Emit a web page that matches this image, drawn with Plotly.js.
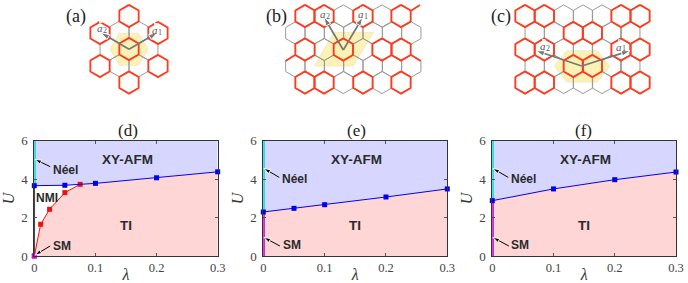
<!DOCTYPE html>
<html><head><meta charset="utf-8">
<script src="https://cdn.plot.ly/plotly-3.0.1.min.js"></script>
<style>html,body{margin:0;padding:0;background:#fff}#c{width:688px;height:283px}</style>
</head><body><div id="c"></div>
<script>
// ---- phase-diagram data
const dBlueL=[0,0.05,0.1,0.2,0.3], dBlueU=[3.66,3.68,3.78,4.07,4.38];
const dRedL=[0,0.0104,0.025,0.05,0.075], dRedU=[0,1.65,2.43,3.3,3.73];
const dTopL=[0,0.0104,0.025,0.05,0.075,0.1,0.2,0.3], dTopU=[0,1.65,2.43,3.3,3.73,3.78,4.07,4.38];
const eBlueL=[0,0.05,0.1,0.2,0.3], eBlueU=[2.29,2.48,2.67,3.07,3.49];
const fBlueL=[0,0.1,0.2,0.3], fBlueU=[2.88,3.49,3.97,4.37];
const xTicks=[0,0.1,0.2,0.3], xTickText=['0','0.1','0.2','0.3'], yTicks=[0,2,4,6];
// ---- lattice diagrams, hexagon centres in sheet pixels
const aRed=[[129,16],[158,33],[100,33],[129,49],[100,66],[158,66],[129,82.5]];
const aGrey=[[148.3,49],[109.7,49],[138.65,32.3],[119.35,32.3],[138.65,65.7],[119.35,65.7]];
const bRed=[[305,16],[324,16],[363,16],[401,16],[305,49.5],[343.3,49.5],[382,49.5],[401,49.5],[305,82.5],[324,82.5],[363,82.5],[401,82.5]];
const bGrey=[[305,16],[324,16],[343.3,16],[363,16],[382,16],[401,16],[295.3,33],[314.7,33],[334,33],[353.3,33],[372.7,33],[392,33],[411.3,33],
[305,49.5],[324,49.5],[343.3,49.5],[363,49.5],[382,49.5],[401,49.5],[295.3,66],[314.7,66],[334,66],[353.3,66],[372.7,66],[392,66],[411.3,66],
[305,82.5],[324,82.5],[343.3,82.5],[363,82.5],[382,82.5],[401,82.5]];
const bRedEdgeX=[411,420,null,285.7,295,null,411,420.7], bRedEdgeY=[10.7,5,null,61,55,null,55,61];
const cRed=[[525,16],[544.3,16],[621,16],[640,16],[573.3,33],[592.3,33],[525,49.5],[544.3,49.5],[621,49.5],[640,49.5],[573.3,66],[592.3,66],[525,82.5],[544.3,82.5],[621,82.5],[640,82.5]];
const cGrey=[[525,16],[544.3,16],[563.7,16],[583,16],[602,16],[621,16],[640,16],[534.7,33],[554,33],[573.3,33],[592.3,33],[611.7,33],[630.3,33],
[525,49.5],[544.3,49.5],[563.7,49.5],[583,49.5],[602,49.5],[621,49.5],[640,49.5],[534.7,66],[554,66],[573.3,66],[592.3,66],[611.7,66],[630.3,66],
[525,82.5],[544.3,82.5],[563.7,82.5],[583,82.5],[602,82.5],[621,82.5],[640,82.5]];
const aCell=[[110,49],[119.3,33.3],[138.3,33.3],[148.3,49],[138.3,65.3],[119.3,65.3]];
const bCell=[[334,32.3],[373.3,32.3],[353.3,66],[314.3,66]];
const cCell=[[554.3,66],[566.7,50.7],[597.3,50.7],[610,66],[597.3,82],[566.7,82]];
const arrows=[[129,49.3,101,32.7],[129,49.3,157.3,32.7],[343.3,50,324,17.3],[343.3,50,362.7,17.3],[581.7,66,536,50.7],[581.7,66,630,50.7]];
const vecLabels=[[100,28,'2'],[155,30,'1'],[323,14,'2'],[361,14,'1'],[543,46,'2'],[619,46.5,'1']];
const panelTags=[['(a)',76,16,18],['(b)',276,16,18],['(c)',501,16,18],['(d)',128,130,17],['(e)',356,130,17],['(f)',583,130,17]];

const W=688,H=283,R=11.1,HW=9.65;
const RED='#ff3a1e',GREY='#9a9a9a',BLUE='#0000ee',CY='#00dede',MAG='#c400c4';
function hexes(list){const x=[],y=[];for(const [a,b] of list){
 x.push(a,a+HW,a+HW,a,a-HW,a-HW,a,null);y.push(b-R,b-R/2,b+R/2,b+R,b+R/2,b-R/2,b-R,null);}return {x,y};}
function closed(list){return {x:list.map(p=>p[0]).concat(list[0][0]),y:list.map(p=>p[1]).concat(list[0][1])};}
const traces=[],ann=[],layout={width:W,height:H,margin:{l:0,r:0,t:0,b:0},showlegend:false,paper_bgcolor:'#fff',plot_bgcolor:'rgba(0,0,0,0)',
 font:{family:'Liberation Serif',color:'#333'},annotations:ann};
function arrow(xa,ya,a,color,width,head){
 traces.push({x:[a[0],a[2]],y:[a[1],a[3]],xaxis:xa,yaxis:ya,mode:'lines+markers',cliponaxis:false,line:{color,width},
  marker:{symbol:'arrow',angleref:'previous',size:[1,head],opacity:[0,1],color}});
}
const panels=[
 {n:'',x0:34.3,x1:217.7,blueL:dBlueL,blueU:dBlueU,top:[dTopL,dTopU],cyan:3.66,mag:null,nt:[.051,4.5],na:[.026,4.65,.001,5.03],st:[.045,.54],sa:[.026,.52,.001,.05]},
 {n:'2',x0:263.3,x1:447.3,blueL:eBlueL,blueU:eBlueU,top:[eBlueL,eBlueU],cyan:2.29,mag:2.29,nt:[.051,4.0],na:[.026,4.09,.001,4.56],st:[.046,.57],sa:[.027,.52,.001,.97]},
 {n:'3',x0:492.3,x1:676,blueL:fBlueL,blueU:fBlueU,top:[fBlueL,fBlueU],cyan:2.88,mag:2.88,nt:[.051,4.0],na:[.026,4.09,.001,4.56],st:[.046,.57],sa:[.027,.52,.001,.97]}
];
const label=(xr,yr,t,x,y,size)=>ann.push({xref:xr,yref:yr,x,y,text:t,showarrow:false,font:{family:'Liberation Sans',size,color:'#2a2a2a'}});
panels.forEach((p,i)=>{
 const xa='x'+p.n,ya='y'+p.n,k=p.n;
 const ax={domain:[p.x0/W,p.x1/W],range:[0,0.3],tickvals:xTicks,ticktext:xTickText,ticks:'inside',ticklen:3,tickcolor:'#555',
  showline:true,linecolor:'#333',linewidth:1,mirror:'ticks',showgrid:false,zeroline:false,tickfont:{family:'Liberation Serif',size:12.5,color:'#444'},
  title:{text:'<i>λ</i>',font:{family:'Liberation Serif',size:16,color:'#333'},standoff:5},anchor:ya};
 const ay={domain:[(H-256)/H,(H-140.7)/H],range:[0,6],tickvals:yTicks,ticks:'inside',ticklen:3,tickcolor:'#555',ticklabelstandoff:3,
  showline:true,linecolor:'#333',linewidth:1,mirror:'ticks',showgrid:false,zeroline:false,tickfont:{family:'Liberation Serif',size:13,color:'#444'},
  title:{text:'<i>U</i>',font:{family:'Liberation Serif',size:16,color:'#333'},standoff:2},anchor:xa};
 layout['xaxis'+k]=ax;layout['yaxis'+k]=ay;
 traces.push({x:[0,0.3],y:[6,6],xaxis:xa,yaxis:ya,mode:'lines',line:{width:0},fill:'tozeroy',fillcolor:'#d6d6ff'});
 traces.push({x:p.blueL,y:p.blueU,xaxis:xa,yaxis:ya,mode:'lines',line:{width:0},fill:'tozeroy',fillcolor:'#ffffff'});
 traces.push({x:p.top[0],y:p.top[1],xaxis:xa,yaxis:ya,mode:'lines',line:{width:0},fill:'tozeroy',fillcolor:'#ffd6d6'});
 traces.push({x:[0,0],y:[p.cyan,6],xaxis:xa,yaxis:ya,mode:'lines',line:{color:CY,width:3},cliponaxis:false});
 if(p.mag) traces.push({x:[0,0],y:[0,p.mag],xaxis:xa,yaxis:ya,mode:'lines',line:{color:MAG,width:3},cliponaxis:false});
 else {traces.push({x:[0,0],y:[0,p.cyan],xaxis:xa,yaxis:ya,mode:'lines',line:{color:'#000',width:1.5},cliponaxis:false});
  traces.push({x:dRedL,y:dRedU,xaxis:xa,yaxis:ya,mode:'lines+markers',line:{color:'#f01010',width:1},marker:{symbol:'square',size:5,color:'#f01010'},cliponaxis:false});
  traces.push({x:[0],y:[0],xaxis:xa,yaxis:ya,mode:'markers',marker:{symbol:'square',size:5,color:'#e000e0'},cliponaxis:false});}
 traces.push({x:p.blueL,y:p.blueU,xaxis:xa,yaxis:ya,mode:'lines+markers',line:{color:BLUE,width:1},marker:{symbol:'square',size:5,color:BLUE},cliponaxis:false});
 label(xa,ya,'<b>XY-AFM</b>',.152,5.03,13.5);
 label(xa,ya,'<b>TI</b>',.15,1.58,13.5);
 label(xa,ya,'<b>Néel</b>',p.nt[0],p.nt[1],12);
 label(xa,ya,'<b>SM</b>',p.st[0],p.st[1],12);
 if(i==0) label(xa,ya,'<b>NMI</b>',.021,3.03,12);
 arrow(xa,ya,p.na,'#000',1,7);
 arrow(xa,ya,p.sa,'#000',1,7);
});

// overlay covering the whole sheet, in sheet pixels
layout.xaxis4={domain:[0,1],range:[0,W],visible:false,fixedrange:true,anchor:'y4'};
layout.yaxis4={domain:[0,1],range:[H,0],visible:false,fixedrange:true,anchor:'x4'};
for(const c of [aCell,bCell,cCell]){const s=closed(c);
 traces.push({x:s.x,y:s.y,xaxis:'x4',yaxis:'y4',mode:'lines',fill:'toself',fillcolor:'#fdf2b5',line:{color:'#e8e0c0',width:0.6}});}
for(const g of [aGrey,bGrey,cGrey]){const s=hexes(g);
 traces.push({x:s.x,y:s.y,xaxis:'x4',yaxis:'y4',mode:'lines',line:{color:GREY,width:1},connectgaps:false});}
for(const g of [aRed,bRed,cRed]){const s=hexes(g);
 traces.push({x:s.x,y:s.y,xaxis:'x4',yaxis:'y4',mode:'lines',line:{color:RED,width:1.8},connectgaps:false});}
traces.push({x:bRedEdgeX,y:bRedEdgeY,xaxis:'x4',yaxis:'y4',mode:'lines',line:{color:RED,width:1.8},connectgaps:false});
for(const a of arrows) arrow('x4','y4',a,'#777',1.7,9);
for(const v of vecLabels){
 ann.push({xref:'x4',yref:'y4',x:v[0],y:v[1],text:'<i>a</i>',showarrow:false,font:{family:'Liberation Serif',size:11,color:'#555'}});
 ann.push({xref:'x4',yref:'y4',x:v[0]+5,y:v[1]+2,text:v[2],showarrow:false,font:{family:'Liberation Serif',size:8,color:'#555'}});
 arrow('x4','y4',[v[0]-3,v[1]-6,v[0]+2.5,v[1]-6],'#666',0.5,3);
}
for(const t of panelTags) ann.push({xref:'x4',yref:'y4',x:t[1],y:t[2],text:t[0],showarrow:false,font:{family:'Liberation Serif',size:t[3],color:'#222'}});
Plotly.newPlot('c',traces,layout,{staticPlot:true,displayModeBar:false});
</script></body></html>
